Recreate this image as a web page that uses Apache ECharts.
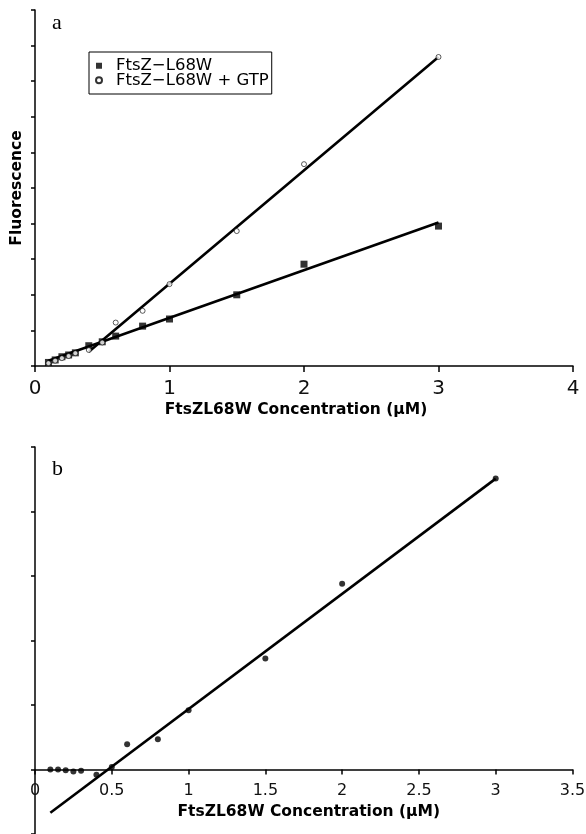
<!DOCTYPE html>
<html>
<head>
<meta charset="utf-8">
<script src="https://cdn.jsdelivr.net/npm/echarts@6/dist/echarts.min.js"></script>
<style>
html,body{margin:0;padding:0;background:#fff;}
#chart{width:586px;height:834px;}
</style>
</head>
<body>
<div id="chart"></div>
<script>
// ---- Data ----
const concA = [0.1, 0.15, 0.2, 0.25, 0.3, 0.4, 0.5, 0.6, 0.8, 1.0, 1.5, 2.0, 3.0];
const fluorNoGTP = [0.1, 0.17, 0.26, 0.31, 0.37, 0.57, 0.68, 0.84, 1.12, 1.32, 2.0, 2.86, 3.93];
const fluorGTP = [0.08, 0.15, 0.22, 0.28, 0.36, 0.45, 0.66, 1.22, 1.55, 2.3, 3.79, 5.67, 8.68];
const fitNoGTPx = [0.1, 3.0];
const fitNoGTPy = [0.15, 4.03];
const fitGTPx = [0.4, 3.0];
const fitGTPy = [0.4, 8.68];

const concB = [0.1, 0.15, 0.2, 0.25, 0.3, 0.4, 0.5, 0.6, 0.8, 1.0, 1.5, 2.0, 3.0];
const diffB = [0, 0, -0.01, -0.03, -0.02, -0.08, 0.04, 0.39, 0.47, 0.92, 1.72, 2.88, 4.51];
const fitBx = [0.1, 3.0];
const fitBy = [-0.67, 4.51];

const seriesNames = ['FtsZ\u2212L68W', 'FtsZ\u2212L68W + GTP'];
const panelLabels = ['a', 'b'];
const xTitle = 'FtsZL68W Concentration (\u03bcM)';
const yTitle = 'Fluorescence';

const zip = (xs, ys) => xs.map((x, i) => [x, ys[i]]);

const axisLineStyle = { color: '#000', width: 1.5 };
const sans = 'DejaVu Sans';

// bottom panel: y from -1 to 5 over 387 px; x axis drawn at y = 0
const bMin = -1, bMax = 5, bHeight = 387;
const bAxisOffset = -(0 - bMin) * bHeight / (bMax - bMin);

const chart = echarts.init(document.getElementById('chart'), null, { renderer: 'canvas' });
chart.setOption({
  animation: false,
  backgroundColor: '#fff',
  title: [
    { text: panelLabels[0], left: 52, top: 12, padding: 0,
      textStyle: { fontFamily: 'Liberation Serif', fontSize: 22, fontWeight: 'normal', color: '#000' } },
    { text: panelLabels[1], left: 52, top: 458, padding: 0,
      textStyle: { fontFamily: 'Liberation Serif', fontSize: 22, fontWeight: 'normal', color: '#000' } }
  ],
  legend: {
    left: 89, top: 52, orient: 'vertical',
    data: [{ name: seriesNames[0], icon: 'rect' }, { name: seriesNames[1], icon: 'circle' }],
    itemWidth: 6, itemHeight: 6, itemGap: -2.5,
    padding: [5.25, 3, 5.25, 6],
    borderColor: '#000', borderWidth: 1,
    textStyle: { fontFamily: sans, fontSize: 16.5, color: '#000', padding: [0, 0, 0, 9] }
  },
  grid: [
    { left: 35, top: 10, width: 538, height: 356, outerBoundsMode: 'none', containLabel: false },
    { left: 35, top: 447, width: 537.5, height: bHeight, outerBoundsMode: 'none', containLabel: false }
  ],
  xAxis: [
    { gridIndex: 0, type: 'value', min: 0, max: 4, interval: 1,
      axisLine: { lineStyle: axisLineStyle },
      axisTick: { length: 6, lineStyle: axisLineStyle },
      axisLabel: { fontFamily: sans, fontSize: 20, color: '#111', margin: 13 },
      splitLine: { show: false },
      name: xTitle, nameLocation: 'middle', nameGap: 36,
      nameTextStyle: { fontFamily: sans, fontWeight: 'bold', fontSize: 15.5, color: '#000', padding: [0, 16, 0, 0] } },
    { gridIndex: 1, type: 'value', min: 0, max: 3.5, interval: 0.5,
      position: 'bottom', offset: bAxisOffset,
      axisLine: { onZero: false, lineStyle: axisLineStyle },
      axisTick: { length: 5, lineStyle: axisLineStyle },
      axisLabel: { fontFamily: sans, fontSize: 16, color: '#111', margin: 13 },
      splitLine: { show: false },
      name: xTitle, nameLocation: 'middle', nameGap: 34,
      nameTextStyle: { fontFamily: sans, fontWeight: 'bold', fontSize: 15.5, color: '#000', padding: [0, 0, 0, 10] } }
  ],
  yAxis: [
    { gridIndex: 0, type: 'value', min: 0, max: 10, interval: 1,
      axisLine: { lineStyle: axisLineStyle },
      axisTick: { length: 4, lineStyle: axisLineStyle },
      axisLabel: { show: false },
      splitLine: { show: false },
      name: yTitle, nameLocation: 'middle', nameGap: 10,
      nameTextStyle: { fontFamily: sans, fontWeight: 'bold', fontSize: 15.5, color: '#000' } },
    { gridIndex: 1, type: 'value', min: bMin, max: bMax, interval: 1,
      axisLine: { onZero: false, lineStyle: axisLineStyle },
      axisTick: { length: 4, lineStyle: axisLineStyle },
      axisLabel: { show: false },
      splitLine: { show: false } }
  ],
  series: [
    { name: 'fitNoGTP', type: 'line', xAxisIndex: 0, yAxisIndex: 0, data: zip(fitNoGTPx, fitNoGTPy),
      symbol: 'none', lineStyle: { color: '#000', width: 2.6 }, z: 2 },
    { name: 'fitGTP', type: 'line', xAxisIndex: 0, yAxisIndex: 0, data: zip(fitGTPx, fitGTPy),
      symbol: 'none', lineStyle: { color: '#000', width: 2.6 }, z: 2 },
    { name: seriesNames[0], type: 'scatter', xAxisIndex: 0, yAxisIndex: 0, data: zip(concA, fluorNoGTP),
      symbol: 'rect', symbolSize: 7, itemStyle: { color: '#000' }, z: 3 },
    { name: seriesNames[1], type: 'scatter', xAxisIndex: 0, yAxisIndex: 0, data: zip(concA, fluorGTP),
      symbol: 'circle', symbolSize: 5, itemStyle: { color: '#fff', borderColor: '#000', borderWidth: 0.8 }, z: 4 },
    { name: 'fitB', type: 'line', xAxisIndex: 1, yAxisIndex: 1, data: zip(fitBx, fitBy),
      symbol: 'none', lineStyle: { color: '#000', width: 2.6 }, z: 2 },
    { name: 'diff', type: 'scatter', xAxisIndex: 1, yAxisIndex: 1, data: zip(concB, diffB),
      symbol: 'circle', symbolSize: 6, itemStyle: { color: '#000' }, z: 3 }
  ]
});
</script>
</body>
</html>
